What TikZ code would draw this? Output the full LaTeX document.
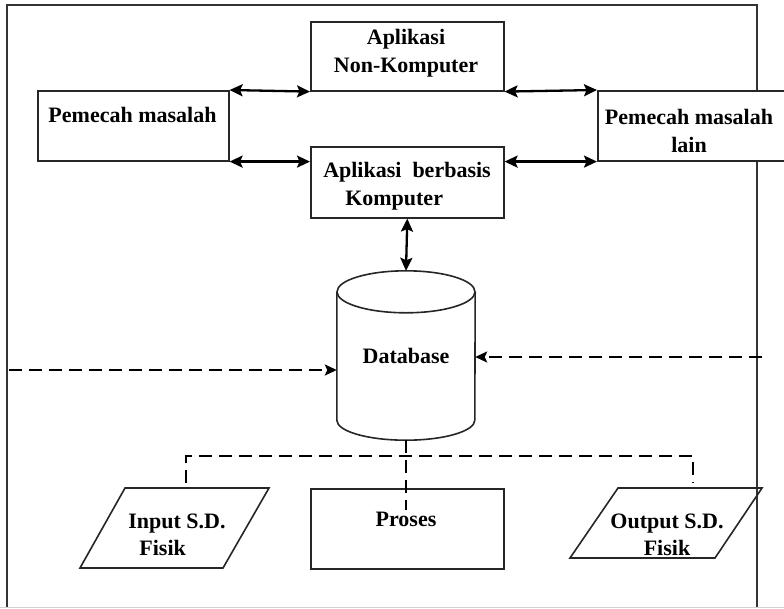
\documentclass[tikz,border=0pt]{standalone}
\usepackage{fontspec}
\setmainfont{Liberation Serif}
\usetikzlibrary{arrows.meta}
\begin{document}
\begin{tikzpicture}[x=1pt,y=-1pt,
  box/.style={draw=black!85, line width=1.6pt, inner sep=0pt, anchor=north west},
  lbl/.style={font=\bfseries\fontsize{22}{27.5}\selectfont, inner sep=0pt},
  shapeline/.style={draw=black!85, line width=1.6pt},
  link/.style={line width=2.3pt, {Stealth[length=13pt,width=12pt,inset=2.5pt]}-{Stealth[length=13pt,width=12pt,inset=2.5pt]}},
  flow/.style={line width=2pt, dash pattern=on 13pt off 7pt},
  feed/.style={flow, -{Stealth[length=12pt,width=11pt,inset=2.5pt]}},
  frame/.style={draw=black!80, line width=1.8pt}
]
\useasboundingbox (0,0) rectangle (784,608);
\clip (0,0) rectangle (784,608);

% outer frame
\draw[frame] (7,608) -- (7,5) -- (757,5) -- (757,608);
\draw[gray!35, line width=1pt] (0,607.5) -- (784,607.5);

% boxes
\node[box, minimum width=193, minimum height=69] (ank) at (310,21) {};
\node[box, minimum width=193, minimum height=71] (apk) at (310,146) {};
\node[box, minimum width=191, minimum height=70] (pm) at (37,90) {};
\node[box, fill=white, minimum width=215, minimum height=70] (pml) at (597,90) {};
\node[box, minimum width=193, minimum height=80] (pro) at (310,488) {};

% box texts
\node[lbl, align=center] (ankt) at (406,53) {Aplikasi\\Non-Komputer};
\node[lbl, align=left] (apkt) at (407,186) {Aplikasi~~berbasis\\\hspace*{22pt}Komputer};
\node[lbl] (pmt) at (132.5,115) {Pemecah masalah};
\node[lbl, align=center] (pmlt) at (689,131) {Pemecah masalah\\lain};
\node[lbl] (prot) at (406,519) {Proses};

% database cylinder
\node[lbl, minimum width=138, minimum height=128] (db) at (406,356) {Database};
\draw[shapeline] (db.north west) -- (db.south west)
  arc[start angle=180, end angle=0, x radius=69, y radius=20] -- (db.north east);
\draw[shapeline] (db.north) ellipse[x radius=69, y radius=21];
\coordinate (dbtop) at ([yshift=21pt]db.north);
\coordinate (dbbot) at ([yshift=-20pt]db.south);

% input / output parallelograms
\draw[shapeline] (125,488) -- (269,488) -- (223,568) -- (80,568) -- cycle;
\node[lbl, align=left] (inpt) at (177,535) {Input S.D.\\\hspace*{11pt}Fisik};
\draw[shapeline] (618,488) -- (762,488) -- (715,558) -- (570,558) -- cycle;
\node[lbl, align=center] (outt) at (667,535) {Output S.D.\\Fisik};

% two-way links
\draw[link] (pm.north east) -- (ank.south west);
\draw[link] (ank.south east) -- (pml.north west);
\draw[link] (pm.south east) -- (pm.south east -| apk.west);
\draw[link] (apk.east |- pml.south west) -- (pml.south west);
\draw[link] (apk.south) -- (dbtop);

% dashed feeds into the database
\coordinate (srcL) at (9,370);
\coordinate (srcR) at (762,357);
\draw[feed] (srcL) -- (srcL -| db.west);
\draw[feed] (srcR) -- (srcR -| db.east);

% dashed distribution from the database
\coordinate (hub) at (406,456);
\coordinate (inpTop) at (186,483);
\coordinate (outTop) at (693,483);
\coordinate (proIn) at (406,510);
\draw[flow] (dbbot) -- (proIn);
\draw[flow] (inpTop) -- (inpTop |- hub) -- (outTop |- hub) -- (outTop);
\end{tikzpicture}
\end{document}
